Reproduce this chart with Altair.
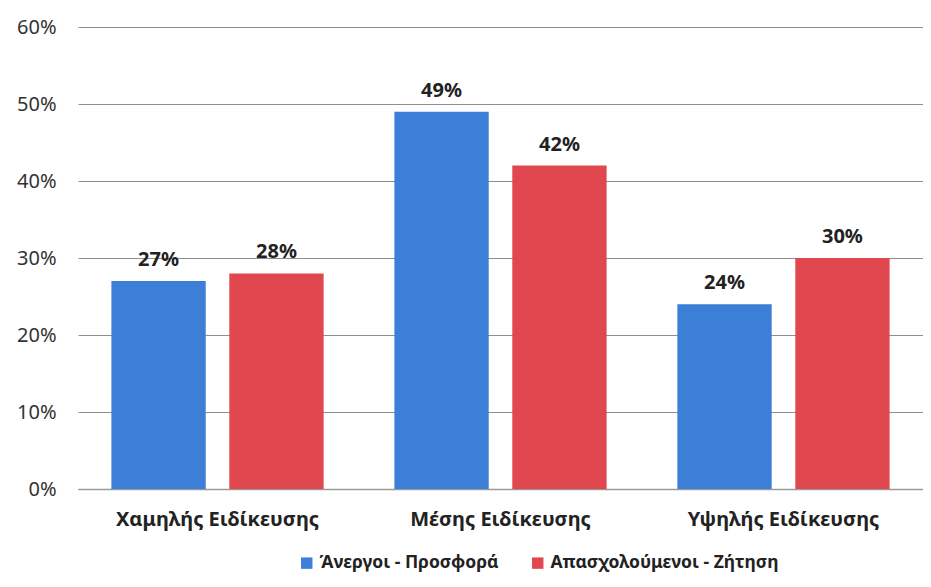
import altair as alt
import pandas as pd

categories = ["Χαμηλής Ειδίκευσης", "Μέσης Ειδίκευσης", "Υψηλής Ειδίκευσης"]
series = ["Άνεργοι - Προσφορά", "Απασχολούμενοι - Ζήτηση"]
unemployed = [0.27, 0.49, 0.24]
employed = [0.28, 0.42, 0.30]
colors = ["#3B7FD6", "#E0474F"]

rows = []
for c, u, e in zip(categories, unemployed, employed):
    rows.append({"cat": c, "series": series[0], "value": u})
    rows.append({"cat": c, "series": series[1], "value": e})
df = pd.DataFrame(rows)

FONT = "Noto Sans"

x = alt.X("cat:N", sort=categories, title=None,
          scale=alt.Scale(paddingInner=0.25, paddingOuter=0.118),
          axis=alt.Axis(labelAngle=0, labelFont=FONT, labelFontSize=20,
                        labelFontWeight="bold", labelColor="#222222",
                        labelPadding=20, labelLimit=400, ticks=False,
                        domainColor="#9a9a9a", domainWidth=1.5))
xo = alt.XOffset("series:N", sort=series, scale=alt.Scale(paddingInner=0.2))
y = alt.Y("value:Q", title=None,
          scale=alt.Scale(domain=[0, 0.6]),
          axis=alt.Axis(format=".0%", values=[0, 0.1, 0.2, 0.3, 0.4, 0.5, 0.6],
                        labelFont=FONT, labelFontSize=20, labelColor="#333333",
                        labelPadding=22, ticks=False, domain=False,
                        gridColor="#8f8f8f", gridWidth=1.2))

bars = alt.Chart(df).mark_bar().encode(
    x=x, xOffset=xo, y=y,
    color=alt.Color("series:N", sort=series,
                    scale=alt.Scale(domain=series, range=colors),
                    legend=alt.Legend(title=None, orient="none", direction="horizontal",
                                      legendX=220, legendY=527,
                                      symbolType="square", symbolSize=130,
                                      symbolStrokeWidth=0, labelFont=FONT,
                                      labelFontSize=17.5, labelFontWeight="bold",
                                      labelColor="#222222", labelOffset=4,
                                      columnPadding=30, labelLimit=400)),
)

labels = alt.Chart(df).mark_text(baseline="bottom", dy=-11, font=FONT, fontSize=20,
                                 fontWeight="bold", color="#222222").encode(
    x=alt.X("cat:N", sort=categories), xOffset=xo, y="value:Q",
    text=alt.Text("value:Q", format=".0%"),
)

chart = (bars + labels).properties(
    width=845, height=462,
    autosize=alt.AutoSizeParams(type="none"),
    padding={"left": 70, "top": 19, "right": 0, "bottom": 90},
).configure_view(stroke=None)

chart.save("out.html", embed_options={"renderer": "svg", "actions": False})
